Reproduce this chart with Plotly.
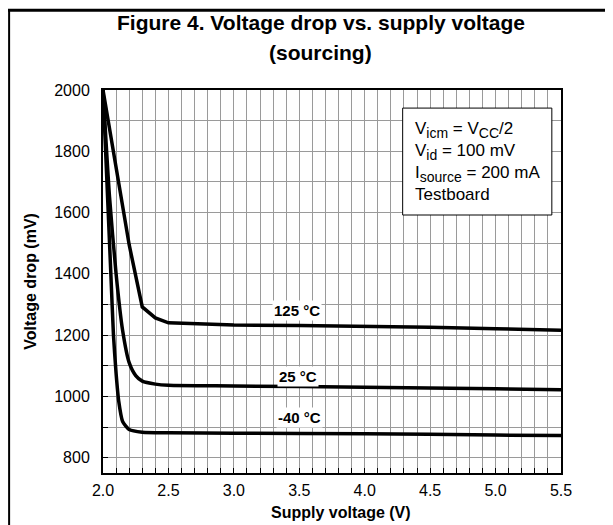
import plotly.graph_objects as go

# Supply voltage (V) and voltage drop (mV)
v_125 = [2.0, 2.1, 2.2, 2.3, 2.4, 2.5, 3.0, 3.5, 4.0, 4.5, 5.0, 5.5]
drop_125 = [2000, 1745, 1495, 1292, 1256, 1240, 1233, 1231, 1229, 1226, 1221, 1216]

v_25 = [2.0, 2.05, 2.1, 2.15, 2.2, 2.25, 2.3, 2.4, 2.5, 3.0, 4.0, 5.0, 5.5]
drop_25 = [2000, 1650, 1400, 1215, 1110, 1068, 1050, 1040, 1036, 1034, 1030, 1025, 1022]

v_m40 = [2.0, 2.03, 2.06, 2.08, 2.1, 2.12, 2.15, 2.2, 2.3, 2.5, 3.0, 4.0, 5.0, 5.5]
drop_m40 = [2000, 1700, 1400, 1200, 1075, 985, 918, 892, 883, 881, 880, 878, 874, 872]

curve_labels = ["125 °C", "25 °C", "-40 °C"]
label_x = [3.48, 3.49, 3.5]
label_y = [1282, 1064, 930]

x_ticks = [2.0, 2.5, 3.0, 3.5, 4.0, 4.5, 5.0, 5.5]
y_ticks = [800, 1000, 1200, 1400, 1600, 1800, 2000]

FONT = "Liberation Sans, Arial, sans-serif"
GRID = "#9a9a9a"
SUB = "<sub><span style='font-size:14px'>{}</span></sub>"

fig = go.Figure()
for xs, ys, shape in [(v_125, drop_125, "linear"),
                      (v_25, drop_25, "spline"),
                      (v_m40, drop_m40, "spline")]:
    fig.add_trace(go.Scatter(
        x=xs, y=ys, mode="lines",
        line=dict(color="black", width=3.5, shape=shape, smoothing=0.6),
        showlegend=False, hoverinfo="skip",
    ))

for txt, lx, ly in zip(curve_labels, label_x, label_y):
    fig.add_annotation(
        x=lx, y=ly, text=txt, showarrow=False,
        font=dict(family=FONT, size=15, color="black", weight="bold"),
        bgcolor="white", borderpad=1,
    )

# conditions box
fig.add_shape(type="rect", xref="x", yref="y", x0=4.29, x1=5.43, y0=1592, y1=1941,
              fillcolor="white", line=dict(color="black", width=1), layer="above")
fig.add_annotation(
    x=4.37, y=1768, xanchor="left", yanchor="middle", showarrow=False, align="left",
    text=("V" + SUB.format("icm") + " = V" + SUB.format("CC") + "/2<br>"
          "V" + SUB.format("id") + " = 100 mV<br>"
          "I" + SUB.format("source") + " = 200 mA<br>Testboard"),
    font=dict(family=FONT, size=17, color="black"),
)

# title, two centred lines
for txt, ty in [("Figure 4. Voltage drop vs. supply voltage", 1.1775), ("(sourcing)", 1.099)]:
    fig.add_annotation(xref="paper", yref="paper", x=0.475, y=ty, showarrow=False,
                       xanchor="center", yanchor="middle", text=txt,
                       font=dict(family=FONT, size=21, color="black", weight="bold"))

# axis titles
fig.add_annotation(xref="paper", yref="paper", x=0.52, y=-0.102, showarrow=False,
                   xanchor="center", yanchor="middle", text="Supply voltage (V)",
                   font=dict(family=FONT, size=16, color="black", weight="bold"))
fig.add_annotation(xref="paper", yref="paper", x=-0.159, y=0.5, showarrow=False,
                   xanchor="center", yanchor="middle",
                   text="Voltage drop (mV)", textangle=-90,
                   font=dict(family=FONT, size=16, color="black", weight="bold"))

# outer frame (left and top)
fig.add_shape(type="line", xref="paper", yref="paper", x0=-0.21, x1=1.2,
              y0=1.208, y1=1.208, line=dict(color="black", width=3))
fig.add_shape(type="line", xref="paper", yref="paper", x0=-0.205, x1=-0.205,
              y0=-0.25, y1=1.21, line=dict(color="black", width=2))

# page body has an 8px margin, so the plot box is shifted up-left by 8px
fig.update_layout(
    width=613, height=525,
    margin=dict(l=95, r=60, t=82, b=60, autoexpand=False),
    paper_bgcolor="white", plot_bgcolor="white",
    font=dict(family=FONT, size=16, color="black"),
)
fig.update_xaxes(
    range=[2.0, 5.5], tickvals=x_ticks, ticktext=[f"{t:.1f}" for t in x_ticks],
    showgrid=True, gridcolor=GRID, gridwidth=1,
    minor=dict(dtick=0.1, showgrid=True, gridcolor=GRID, gridwidth=1,
               ticks="inside", ticklen=5, tickcolor="black"),
    ticks="inside", ticklen=5, tickcolor="black",
    showline=True, linecolor="black", linewidth=2, mirror=True,
    zeroline=False, automargin=False, ticklabelstandoff=2,
    tickfont=dict(family=FONT, size=16),
)
fig.update_yaxes(
    range=[750, 2000], tickvals=y_ticks,
    showgrid=True, gridcolor=GRID, gridwidth=1,
    minor=dict(dtick=100, tick0=0, showgrid=True, gridcolor=GRID, gridwidth=1,
               ticks="inside", ticklen=5, tickcolor="black"),
    ticks="inside", ticklen=5, tickcolor="black",
    showline=True, linecolor="black", linewidth=2, mirror=True,
    zeroline=False, automargin=False, ticklabelstandoff=8,
    tickfont=dict(family=FONT, size=16),
)

fig.write_html("out.html")
